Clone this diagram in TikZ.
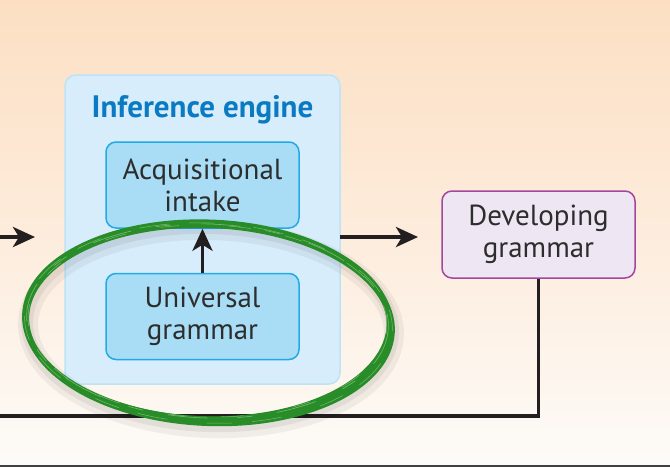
\documentclass[tikz,border=0pt]{standalone}
\usepackage{fontspec}
\setmainfont{PT Sans}
\usetikzlibrary{arrows.meta}
\definecolor{bgtop}{RGB}{252,223,195}
\definecolor{bgmid}{RGB}{253,236,220}
\definecolor{bgbot}{RGB}{253,251,248}
\definecolor{engfill}{RGB}{215,237,251}
\definecolor{engdraw}{RGB}{190,227,247}
\definecolor{boxfill}{RGB}{169,221,245}
\definecolor{boxdraw}{RGB}{35,170,230}
\definecolor{devfill}{RGB}{238,230,242}
\definecolor{devdraw}{RGB}{163,71,158}
\definecolor{titleblue}{RGB}{10,122,194}
\definecolor{txt}{RGB}{45,45,45}
\definecolor{ink}{RGB}{35,31,32}
\definecolor{brush}{RGB}{40,140,40}
\definecolor{brushlight}{RGB}{120,185,110}
\begin{document}
\begin{tikzpicture}[x=1pt,y=-1pt,
  boxtext/.style={font=\fontsize{29}{32}\selectfont, text=txt, align=center},
  innerbox/.style={boxtext, draw=boxdraw, fill=boxfill, line width=1.5pt, rounded corners=10pt,
    minimum width=193pt, minimum height=86pt, inner sep=0pt},
  devbox/.style={boxtext, draw=devdraw, fill=devfill, line width=1.5pt, rounded corners=10pt,
    minimum width=193pt, minimum height=87pt, inner sep=0pt},
  engbox/.style={draw=engdraw, fill=engfill, line width=1.5pt, rounded corners=11pt,
    minimum width=275pt, minimum height=309pt, inner sep=0pt},
  flow/.style={draw=ink, line width=3.8pt, -{Stealth[length=22pt,width=20pt,inset=6pt]}},
  feed/.style={draw=ink, line width=3.5pt},
  brushstroke/.style={draw=brush, line cap=round}
]
\useasboundingbox (0,0) rectangle (670,467);
% background
\fill[white] (0,0) rectangle (670,467);
\shade[top color=bgtop, bottom color=bgbot, middle color=bgmid] (0,0) rectangle (670,464.5);
\draw[line width=2pt, draw=black!75] (0,465.5) -- (670,465.5);

% inference engine container
\node[engbox] (engine) at (202.5,229.5) {};
\node[font=\fontsize{31}{33}\selectfont\bfseries, text=titleblue] (title) at (202.5,110) {Inference engine};
\node[innerbox] (ai) at (202.5,185) {Acquisitional\\intake};
\node[innerbox] (ug) at (202.5,316.5) {Universal\\grammar};
\node[devbox] (dg) at (538.5,234.5) {Developing\\grammar};

% connectors
\coordinate (inL) at (0,237);
\coordinate (inR) at (35,237);
\coordinate (outS) at (340,237);
\coordinate (outE) at (418,237);
\coordinate (fbC) at (538.5,416);
\coordinate (fbL) at (0,416);
\draw[flow] (inL) -- (inR);
\draw[flow] (outS) -- (outE);
\draw[flow] (ug.north) -- (ai.south);
\draw[feed, line join=miter] (dg.south) -- (fbC) -- (fbL);

% green hand-drawn ellipse with soft shadow
\draw[black, opacity=0.05, line width=20pt] (211,329) ellipse [x radius=183, y radius=99, rotate=-2];
\draw[black, opacity=0.06, line width=12pt] (210,327) ellipse [x radius=183, y radius=99, rotate=-2];
\draw[brushstroke, line width=6pt] (207.5,321) ellipse [x radius=182.5, y radius=98.5, rotate=-2];
\draw[brushstroke, line width=6pt] (209,324) ellipse [x radius=183, y radius=99, rotate=-2.5];
\draw[brushstroke, line width=2.5pt] (207,319.5) ellipse [x radius=181, y radius=98, rotate=-1.5];
\draw[draw=brushlight, line width=0.6pt, dash pattern=on 40pt off 25pt on 15pt off 30pt] (207.5,321) ellipse [x radius=181, y radius=97, rotate=-2];
\draw[draw=brushlight, line width=0.5pt, dash pattern=on 25pt off 40pt on 30pt off 20pt, dash phase=30pt] (208.5,323) ellipse [x radius=184, y radius=100, rotate=-2.5];
\draw[draw=brushlight, line width=0.5pt, dash pattern=on 18pt off 50pt on 22pt off 35pt, dash phase=10pt] (207.5,321) ellipse [x radius=179.5, y radius=96, rotate=-1.5];
\end{tikzpicture}
\end{document}
